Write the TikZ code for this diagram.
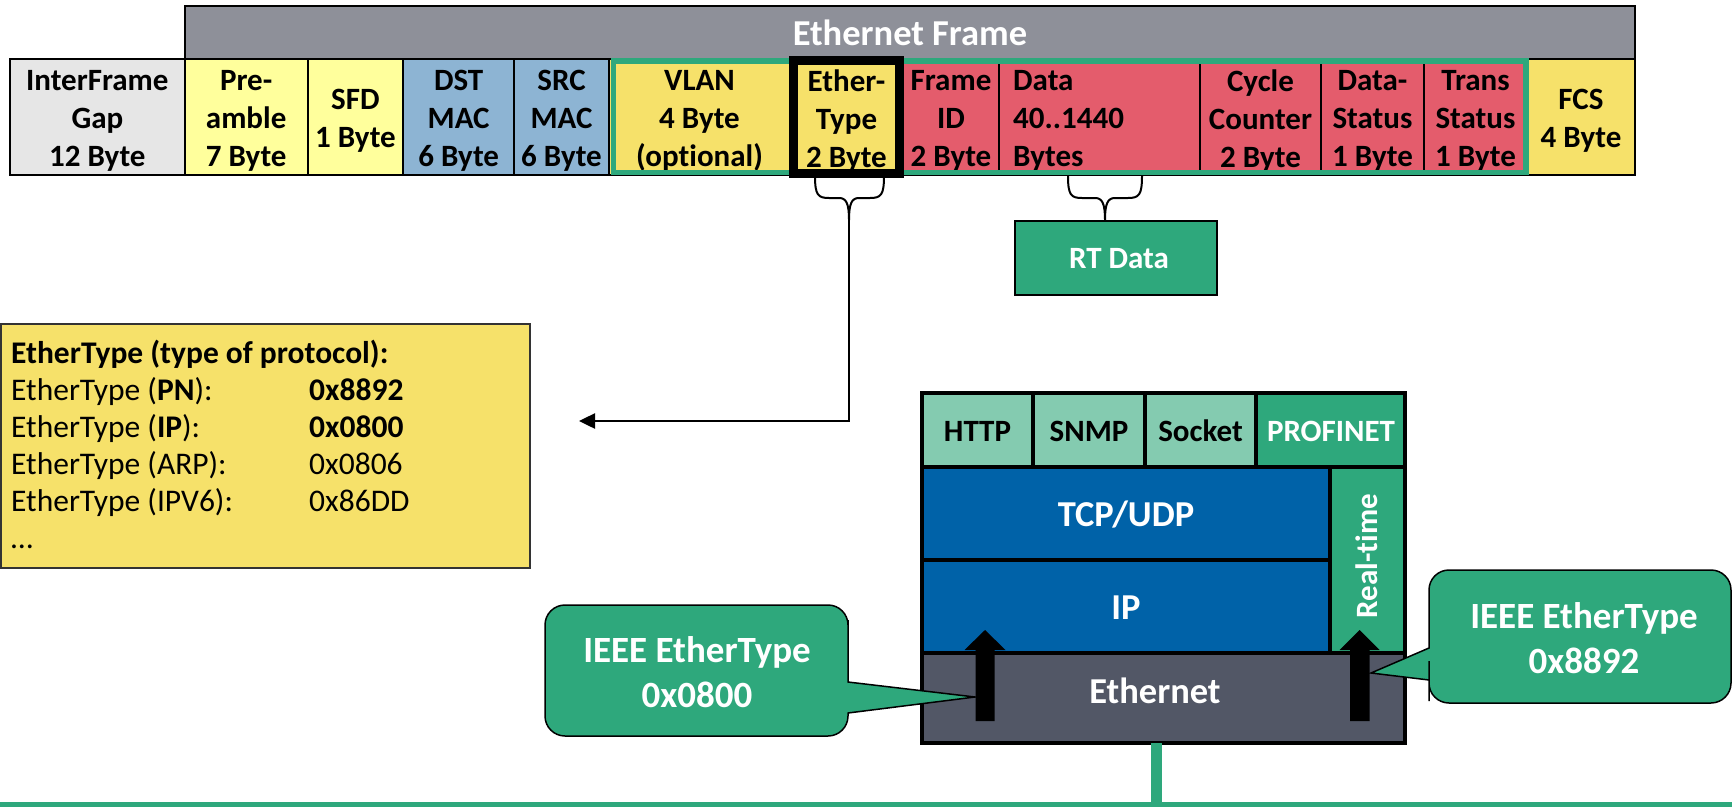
\documentclass[tikz,border=0pt]{standalone}
\usepackage{fontspec}
\setmainfont{Carlito}[Ligatures={NoCommon}]
\usetikzlibrary{arrows.meta}
\definecolor{barGray}{HTML}{8E9099}
\definecolor{ifgGray}{HTML}{E6E6E6}
\definecolor{lYellow}{HTML}{FFFF9C}
\definecolor{macBlue}{HTML}{8DB4D3}
\definecolor{fYellow}{HTML}{F6E16A}
\definecolor{fRed}{HTML}{E45C6C}
\definecolor{pnGreen}{HTML}{2EA87C}
\definecolor{lGreen}{HTML}{84CBB0}
\definecolor{tcpBlue}{HTML}{0062A8}
\definecolor{ethGray}{HTML}{525766}

\newcommand\fieldcell[5]{%
  \draw[cellbox, fill=#4] (#2,58.5) rectangle (#3,174.5);
  \node[ftxt] (#1) at ({(#2+#3)/2},121) {#5};}

\newcommand\curlybrace[4]{%
  \coordinate (#1) at (#3,220);
  \draw[bracestyle] (#2,176) .. controls (#2,195) and ({#2+3},198) .. ({#2+14},198)
    -- ({#3-10},198) .. controls ({#3-3},198) and (#3,203) .. (#1)
    .. controls (#3,203) and ({#3+3},198) .. ({#3+10},198)
    -- ({#4-14},198) .. controls ({#4-3},198) and (#4,195) .. (#4,176);}

\begin{document}
\begin{tikzpicture}[x=1pt,y=-1pt,
  cellbox/.style={draw=black, line width=2pt},
  ftxt/.style={font=\bfseries\fontsize{31}{38}\selectfont, align=center, inner sep=0pt},
  btxt/.style={font=\bfseries\fontsize{36.5}{44}\selectfont, align=center, inner sep=0pt, text=white},
  stackbox/.style={draw=black, line width=4pt},
  ltxt/.style={font=\fontsize{31.5}{37}\selectfont, anchor=base west, inner sep=0pt},
  bracestyle/.style={draw=black, line width=2pt},
  calloutshape/.style={draw=black, line width=1.5pt, fill=pnGreen},
  ctxt/.style={font=\bfseries\fontsize{37}{45}\selectfont, align=center, inner sep=0pt, text=white},
]
\useasboundingbox (0,0) rectangle (1732,806);

% ---- Ethernet frame title bar
\draw[cellbox, fill=barGray] (185,5.5) rectangle (1635,58.5);
\node[btxt] (title) at (910,33) {Ethernet Frame};

% ---- frame fields
\fieldcell{ifg}{10}{184.7}{ifgGray}{InterFrame\\Gap\\12 Byte}
\fieldcell{pre}{184.7}{307.6}{lYellow}{Pre-\\amble\\7 Byte}
\fieldcell{sfd}{307.6}{403.3}{lYellow}{SFD\\1 Byte}
\fieldcell{dst}{403.3}{514}{macBlue}{DST\\MAC\\6 Byte}
\fieldcell{src}{514}{609}{macBlue}{SRC\\MAC\\6 Byte}
\fieldcell{vlan}{609}{790}{fYellow}{VLAN\\4 Byte\\(optional)}
\fieldcell{etype}{790}{903}{fYellow}{Ether-\\Type\\2 Byte}
\fieldcell{fid}{903}{999}{fRed}{Frame\\ID\\2 Byte}
\draw[cellbox, fill=fRed] (999,58.5) rectangle (1200,174.5);
\node[ftxt, align=left, anchor=west] (data) at (1013,121) {Data\\40..1440\\Bytes};
\fieldcell{cyc}{1200}{1321}{fRed}{Cycle\\Counter\\2 Byte}
\fieldcell{dstat}{1321}{1424}{fRed}{Data-\\Status\\1 Byte}
\fieldcell{tstat}{1424}{1527}{fRed}{Trans\\Status\\1 Byte}
\fieldcell{fcs}{1527}{1635}{fYellow}{FCS\\4 Byte}

% green frame around PROFINET part, black frame around EtherType
\draw[pnGreen, line width=5.5pt] (613.5,61) rectangle (1526,172.5);
\draw[black, line width=9pt] (793.5,60.5) rectangle (899,173.5);

% ---- braces
\curlybrace{b1tip}{815}{849}{884}
\curlybrace{b2tip}{1068}{1105}{1142}

% ---- RT data box
\draw[cellbox, fill=pnGreen] (1015,221) rectangle (1217,295);
\node[ftxt, text=white] (rt) at (1119,259) {RT Data};

% ---- EtherType list box
\draw[draw=black!80, line width=1.5pt, fill=fYellow] (1,324) rectangle (530,568);
\node[ltxt] (l1) at (11,363) {\bfseries EtherType (type of protocol):};
\node[ltxt] (l2) at (11,400) {EtherType (\textbf{PN}):};
\node[ltxt] (v2) at (309,400) {\textbf{0x8892}};
\node[ltxt] (l3) at (11,437) {EtherType (\textbf{IP}):};
\node[ltxt] (v3) at (309,437) {\textbf{0x0800}};
\node[ltxt] (l4) at (11,474) {EtherType (ARP):};
\node[ltxt] (v4) at (309,474) {0x0806};
\node[ltxt] (l5) at (11,511) {EtherType (IPV6):};
\node[ltxt] (v5) at (309,511) {0x86DD};
\node[ltxt] (l6) at (11,548) {…};

% connector from EtherType brace to the list
\coordinate (listpt) at (579,421);
\draw[line width=2.5pt, -{Triangle[length=16pt, width=15pt]}] (b1tip) |- (listpt);

% ---- protocol stack
\draw[stackbox, fill=lGreen] (922,393) rectangle (1033,467);
\draw[stackbox, fill=lGreen] (1033,393) rectangle (1145,467);
\draw[stackbox, fill=lGreen] (1145,393) rectangle (1256,467);
\draw[stackbox, fill=pnGreen] (1256,393) rectangle (1405,467);
\draw[stackbox, fill=tcpBlue] (922,467) rectangle (1330,560);
\draw[stackbox, fill=tcpBlue] (922,560) rectangle (1330,653);
\draw[stackbox, fill=pnGreen] (1330,467) rectangle (1405,653);
\draw[stackbox, fill=ethGray] (922,653) rectangle (1405,743);

\node[ftxt] (http) at (977.5,431) {HTTP};
\node[ftxt] (snmp) at (1089,431) {SNMP};
\node[ftxt] (sock) at (1200.5,431) {Socket};
\node[ftxt, text=white] (pn) at (1331,431) {PROFINET};
\node[btxt] (tcp) at (1126,515) {TCP/UDP};
\node[btxt] (ip) at (1126,608) {IP};
\node[btxt] (eth) at (1155,690.5) {Ethernet};
\node[ftxt, text=white, rotate=90] (rtime) at (1367,556) {Real-time};

% black up arrows
\fill[black] (975.5,721) -- (975.5,650) -- (964.5,650) -- (985,630) -- (1005.5,650) -- (994.5,650) -- (994.5,721) -- cycle;
\fill[black] (1350,721) -- (1350,650) -- (1339.5,650) -- (1359.7,630) -- (1379.5,650) -- (1369.5,650) -- (1369.5,721) -- cycle;

% ---- callouts
\draw[calloutshape] (848,682) -- (975,697) -- (848,713) -- (848,714)
  {[rounded corners=20pt] -- (848,736) -- (545,736) -- (545,605) -- (848,605) -- (848,640)} -- cycle;
\node[ctxt] (c1) at (697,672) {IEEE EtherType\\0x0800};

\draw[calloutshape] (1429,680) -- (1371,673) -- (1429,648) -- (1429,645)
  {[rounded corners=20pt] -- (1429,570) -- (1731,570) -- (1731,703) -- (1429,703) -- (1429,681)} -- cycle;
\node[ctxt] (c2) at (1584,638) {IEEE EtherType\\0x8892};

% ---- green bus line
\coordinate (ethbot) at (1156,743);
\coordinate (busjoin) at (1156,806);
\coordinate (busL) at (0,804);
\coordinate (busR) at (1732,804);
\draw[pnGreen, line width=11pt] (ethbot) -- (busjoin);
\draw[pnGreen, line width=5pt] (busL) -- (busR);
\end{tikzpicture}
\end{document}
